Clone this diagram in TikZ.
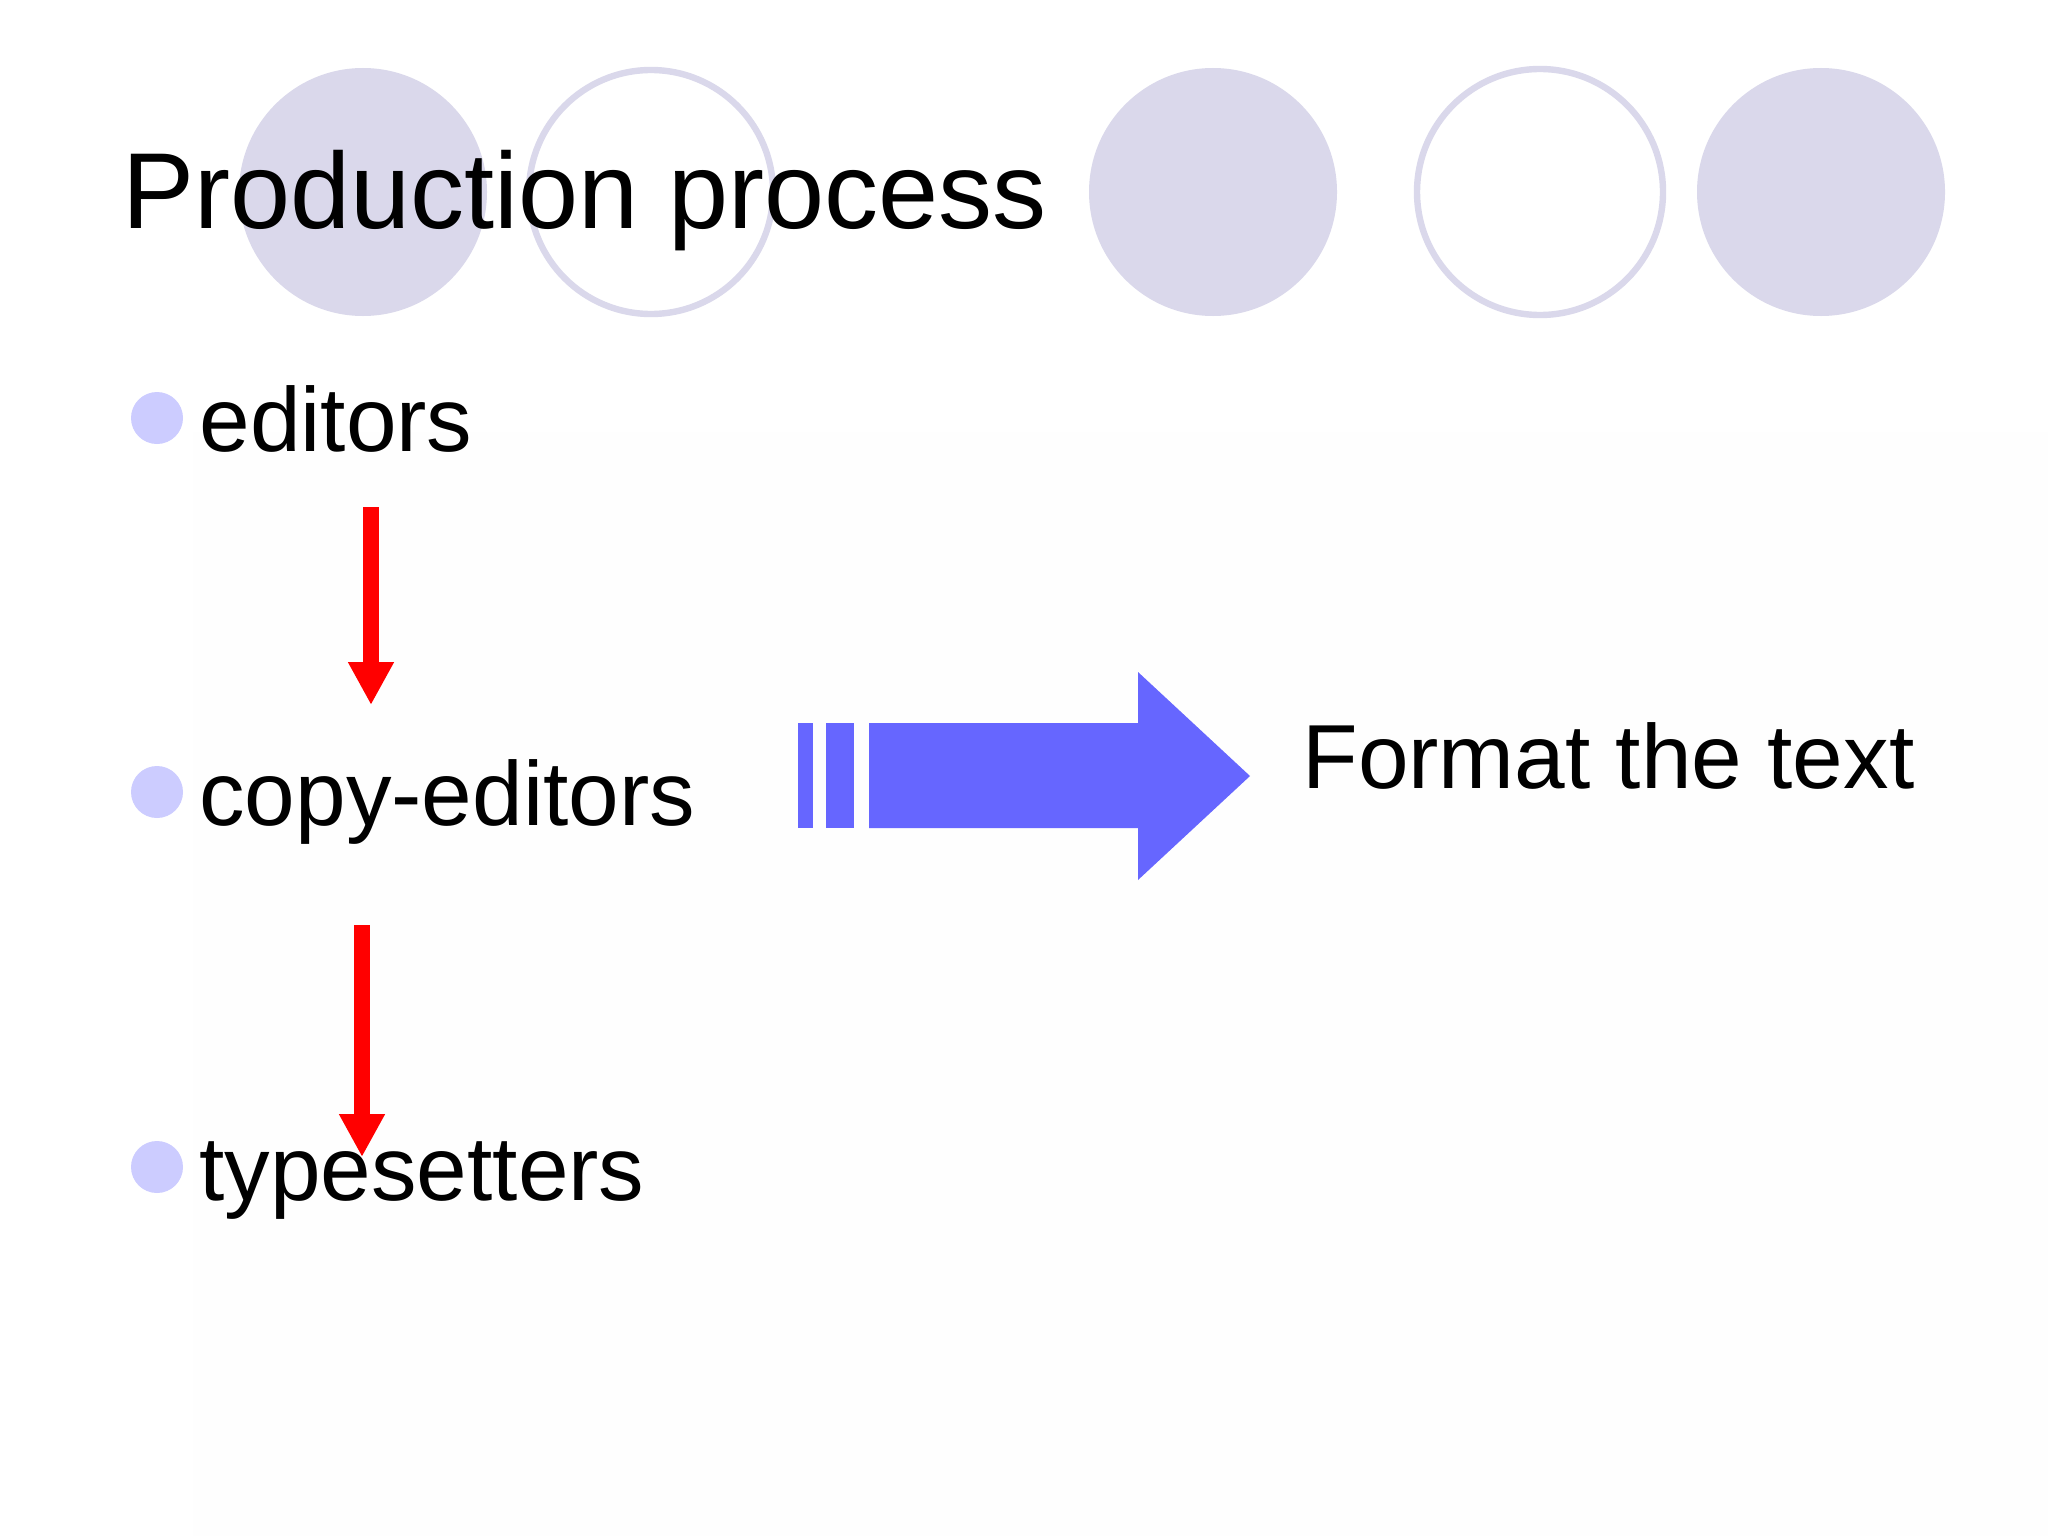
\documentclass[tikz,border=0pt]{standalone}
\usepackage{fontspec}
\setmainfont{Liberation Sans}
\usetikzlibrary{arrows.meta}
\definecolor{lav}{RGB}{218,216,235}
\definecolor{bul}{RGB}{204,204,255}
\definecolor{blu}{RGB}{102,102,255}
\definecolor{pale}{RGB}{254,254,254}
\begin{document}
\begin{tikzpicture}[x=0.5pt,y=-0.5pt,
  deco/.style={fill=lav},
  ring/.style={draw=lav,line width=3.2pt},
  bulletdot/.style={circle,fill=bul,inner sep=0pt,minimum size=26pt},
  titletext/.style={anchor=base west,inner sep=0pt,font=\fontsize{54}{60}\selectfont},
  itemtext/.style={anchor=base west,inner sep=0pt,font=\fontsize{45.5}{50}\selectfont},
  redarrow/.style={draw=red,line width=8pt,-{Triangle[width=21.5pt,length=21.5pt]}},
  bigarrow/.style={fill=blu}
]
\useasboundingbox (0,0) rectangle (2048,1536);
\fill[white] (0,0) rectangle (2048,1536);
\fill[pale] (193,432) rectangle (2048,1536);
% decorative circles
\fill[deco] (363,192) circle[radius=124];
\draw[ring] (651,192) circle[radius=122];
\fill[deco] (1213,192) circle[radius=124];
\draw[ring] (1540,192) circle[radius=123];
\fill[deco] (1821,192) circle[radius=124];
% title
\node[titletext] (title) at (122,228) {Production process};
% bullets
\node[bulletdot] (b1) at (157,418) {};
\node[bulletdot] (b2) at (157,792) {};
\node[bulletdot] (b3) at (157,1167) {};
\node[itemtext] (ed) at (199,451) {editors};
\node[itemtext] (ce) at (199,825) {copy-editors};
\node[itemtext] (ty) at (199,1200) {typesetters};
% red arrows
\coordinate (r1a) at (371,507);
\coordinate (r1b) at (371,705);
\coordinate (r2a) at (362,925);
\coordinate (r2b) at (362,1157);
\draw[redarrow] (r1a) -- (r1b);
\draw[redarrow] (r2a) -- (r2b);
% blue block arrow
\fill[bigarrow] (798,723) rectangle (813,828);
\fill[bigarrow] (826,723) rectangle (854,828);
\fill[bigarrow] (869,723) -- (1138,723) -- (1138,672) -- (1250,776) -- (1138,880) -- (1138,828) -- (869,828) -- cycle;
% right text
\node[itemtext] (fmt) at (1302,788) {Format the text};
\end{tikzpicture}
\end{document}
